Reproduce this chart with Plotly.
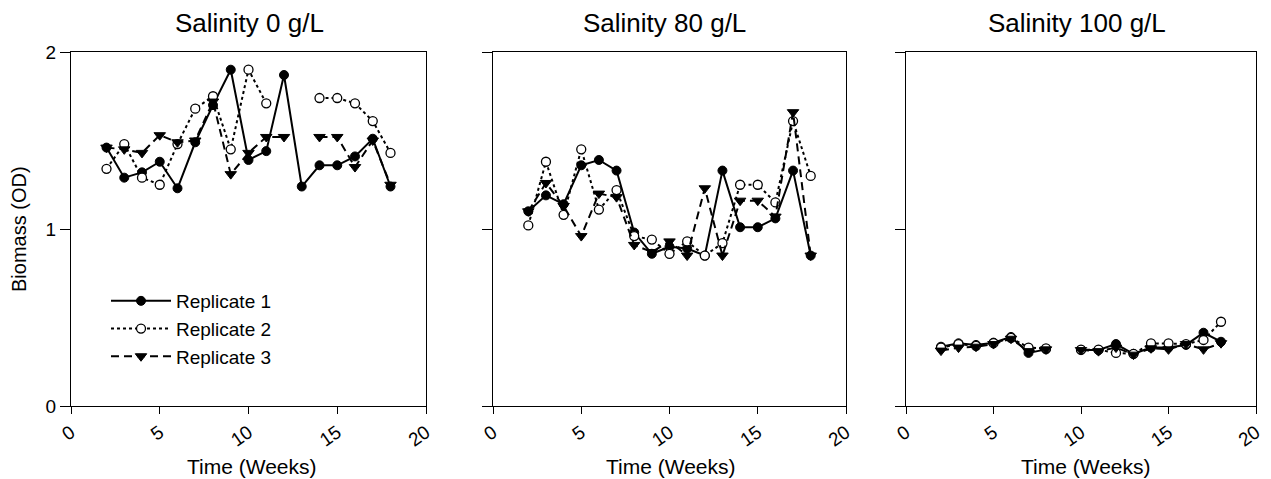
import plotly.graph_objects as go

weeks = list(range(2, 19))

# Salinity 0 g/L
p1_rep1 = [1.46, 1.29, 1.32, 1.38, 1.23, 1.49, 1.70, 1.90, 1.39, 1.44, 1.87, 1.24, 1.36, 1.36, 1.41, 1.51, 1.24]
p1_rep2 = [1.34, 1.48, 1.29, 1.25, 1.48, 1.68, 1.75, 1.45, 1.90, 1.71, None, None, 1.74, 1.74, 1.71, 1.61, 1.43]
p1_rep3 = [1.46, 1.45, 1.43, 1.53, 1.49, 1.50, 1.72, 1.31, 1.43, 1.52, 1.52, None, 1.52, 1.52, 1.35, 1.50, 1.25]

# Salinity 80 g/L
p2_rep1 = [1.10, 1.19, 1.14, 1.36, 1.39, 1.33, 0.98, 0.86, 0.90, 0.89, 0.85, 1.33, 1.01, 1.01, 1.06, 1.33, 0.85]
p2_rep2 = [1.02, 1.38, 1.08, 1.45, 1.11, 1.22, 0.96, 0.94, 0.86, 0.93, 0.85, 0.92, 1.25, 1.25, 1.15, 1.61, 1.30]
p2_rep3 = [1.10, 1.26, 1.13, 0.96, 1.20, 1.18, 0.91, 0.87, 0.93, 0.85, 1.23, 0.85, 1.16, 1.16, 1.07, 1.66, 0.85]

# Salinity 100 g/L
p3_rep1 = [0.335, 0.354, 0.345, 0.358, 0.39, 0.30, 0.32, None, 0.316, 0.316, 0.35, 0.295, 0.33, 0.33, 0.345, 0.414, 0.363]
p3_rep2 = [0.33, 0.35, 0.34, 0.355, 0.385, 0.33, 0.326, None, 0.318, 0.318, 0.30, 0.295, 0.354, 0.354, 0.35, 0.373, 0.476]
p3_rep3 = [0.313, 0.33, 0.335, 0.35, 0.38, 0.31, 0.32, None, 0.316, 0.31, 0.33, 0.29, 0.326, 0.32, 0.35, 0.32, 0.355]

panel_titles = ["Salinity 0 g/L", "Salinity 80 g/L", "Salinity 100 g/L"]
rep_names = ["Replicate 1", "Replicate 2", "Replicate 3"]
x_ticks = [0, 5, 10, 15, 20]
y_ticks = [0, 1, 2]

panels = [(p1_rep1, p1_rep2, p1_rep3), (p2_rep1, p2_rep2, p2_rep3), (p3_rep1, p3_rep2, p3_rep3)]

styles = [
    dict(line=dict(color="black", width=2, dash="solid"),
         marker=dict(symbol="circle", size=9, color="black", line=dict(color="black", width=1))),
    dict(line=dict(color="black", width=2, dash="dot"),
         marker=dict(symbol="circle", size=9, color="white", line=dict(color="black", width=1.3))),
    dict(line=dict(color="black", width=2, dash="8px,5px"),
         marker=dict(symbol="triangle-down", size=10, color="black", line=dict(color="black", width=1))),
]

# The page body adds an 8px margin; lay out in figure pixels = screen pixels - 8
OFF = 8
W, H = 1271 - OFF, 479 - OFF
xdom_px = [(71 - OFF, 426 - OFF), (493 - OFF, 846 - OFF), (906 - OFF, 1256 - OFF)]
ydom = [(H - (406 - OFF)) / H, (H - (52 - OFF)) / H]


def px_x(sx):
    return (sx - OFF) / W


def px_y(sy):
    return (H - (sy - OFF)) / H


fig = go.Figure()
for i, reps in enumerate(panels):
    xa = "x" if i == 0 else f"x{i+1}"
    ya = "y" if i == 0 else f"y{i+1}"
    for j, vals in enumerate(reps):
        fig.add_trace(go.Scatter(
            x=weeks, y=vals, mode="lines+markers", name=rep_names[j],
            xaxis=xa, yaxis=ya, connectgaps=False, showlegend=(i == 0),
            cliponaxis=False, **styles[j]))

font_family = "Liberation Sans, Arial, sans-serif"
layout = dict(
    width=W, height=H, margin=dict(l=0, r=0, t=0, b=0, autoexpand=False),
    plot_bgcolor="white", paper_bgcolor="white",
    font=dict(family=font_family, size=19, color="black"),
    legend=dict(x=px_x(106), y=px_y(282), xanchor="left", yanchor="top",
                bgcolor="rgba(0,0,0,0)", itemwidth=60, font=dict(size=19),
                tracegroupgap=0),
)
for i in range(3):
    sx = "" if i == 0 else str(i + 1)
    x0, x1 = xdom_px[i]
    layout["xaxis" + sx] = dict(
        domain=[x0 / W, x1 / W], range=[0, 20], tickvals=x_ticks,
        ticks="outside", ticklen=7, tickwidth=1, tickcolor="black", tickangle=-35,
        showline=True, linecolor="black", linewidth=1, mirror=True,
        showgrid=False, zeroline=False, anchor="y" + sx, automargin=False,
        tickfont=dict(size=19))
    layout["yaxis" + sx] = dict(
        domain=ydom, range=[0, 2], tickvals=y_ticks,
        ticks="outside", ticklen=10, tickwidth=1, tickcolor="black",
        showline=True, linecolor="black", linewidth=1, mirror=True,
        showgrid=False, zeroline=False, anchor="x" + sx, automargin=False,
        showticklabels=(i == 0), tickfont=dict(size=19))
fig.update_layout(**layout)

annotations = []
title_centers = [249, 664, 1077]
xtitle_centers = [252, 671, 1086]
for i in range(3):
    annotations.append(dict(text=panel_titles[i], x=px_x(title_centers[i]), y=px_y(23),
                            xref="paper", yref="paper",
                            xanchor="center", yanchor="middle", showarrow=False,
                            font=dict(size=26)))
    annotations.append(dict(text="Time (Weeks)", x=px_x(xtitle_centers[i]), y=px_y(466),
                            xref="paper", yref="paper",
                            xanchor="center", yanchor="middle", showarrow=False,
                            font=dict(size=21)))
annotations.append(dict(text="Biomass (OD)", x=px_x(19), y=px_y(229), xref="paper", yref="paper",
                        xanchor="center", yanchor="middle", showarrow=False, textangle=-90,
                        font=dict(size=20)))
fig.update_layout(annotations=annotations)

fig.write_html("out.html")
